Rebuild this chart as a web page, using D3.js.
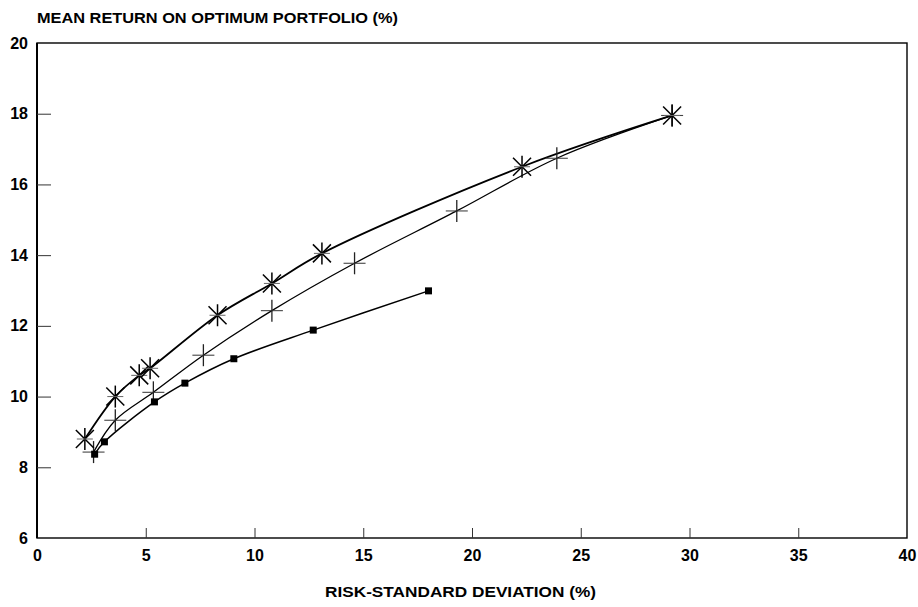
<!DOCTYPE html>
<html>
<head>
<meta charset="utf-8">
<script src="https://cdn.jsdelivr.net/npm/d3@7/dist/d3.min.js"></script>
<style>
  html, body { margin: 0; padding: 0; background: #fff; }
  svg { display: block; }
  text { font-family: "Liberation Sans", Arial, sans-serif; font-weight: bold; fill: #000; }
</style>
</head>
<body>
<svg id="chart" width="918" height="607"></svg>
<script>
// ---- data ----
const titleText = "MEAN RETURN ON OPTIMUM PORTFOLIO (%)";
const xLabelText = "RISK-STANDARD DEVIATION (%)";
const xTicks = [0, 5, 10, 15, 20, 25, 30, 35, 40];
const yTicks = [6, 8, 10, 12, 14, 16, 18, 20];

const starX = [2.2, 3.6, 4.7, 5.2, 8.3, 10.8, 13.1, 22.3, 29.2];
const starY = [8.8, 10.0, 10.6, 10.8, 12.3, 13.2, 14.05, 16.5, 17.95];

const plusX = [2.6, 3.6, 5.35, 7.65, 10.8, 14.6, 19.3, 23.9, 29.2];
const plusY = [8.43, 9.33, 10.12, 11.17, 12.43, 13.77, 15.25, 16.74, 17.95];

const squareX = [2.65, 3.1, 5.4, 6.8, 9.05, 12.7, 18.0];
const squareY = [8.37, 8.72, 9.85, 10.38, 11.07, 11.88, 12.99];

// ---- layout ----
const svg = d3.select("#chart");
const L = 37, R = 907, T = 43, B = 538;
const x = d3.scaleLinear().domain([0, 40]).range([L, R]);
const y = d3.scaleLinear().domain([6, 20]).range([B, T]);

// frame
svg.append("rect").attr("x", L).attr("y", T).attr("width", R - L).attr("height", B - T)
  .attr("fill", "none").attr("stroke", "#000").attr("stroke-width", 1.4);
svg.append("line").attr("x1", L).attr("x2", L).attr("y1", T).attr("y2", B)
  .attr("stroke", "#000").attr("stroke-width", 2);

// y axis
const yAxis = d3.axisLeft(y).tickValues(yTicks).tickSizeInner(-14).tickSizeOuter(0).tickPadding(9)
  .tickFormat(d3.format("d"));
const gy = svg.append("g").attr("transform", `translate(${L},0)`).call(yAxis);
gy.select(".domain").remove();
gy.selectAll(".tick line").attr("stroke", "#333").attr("stroke-width", 1)
  .filter(d => d === 6 || d === 20).remove();
gy.selectAll(".tick text").style("font-size", "16px").style("font-family", "'Liberation Sans', Arial, sans-serif").style("font-weight", "bold");

// x axis
const xAxis = d3.axisBottom(x).tickValues(xTicks).tickSizeInner(-10).tickSizeOuter(0).tickPadding(12)
  .tickFormat(d3.format("d"));
const gx = svg.append("g").attr("transform", `translate(0,${B})`).call(xAxis);
gx.select(".domain").remove();
gx.selectAll(".tick line").attr("stroke", "#333").attr("stroke-width", 1)
  .filter(d => d === 0 || d === 40).remove();
gx.selectAll(".tick text").style("font-size", "16px").style("font-family", "'Liberation Sans', Arial, sans-serif").style("font-weight", "bold");

// titles
svg.append("text").attr("x", 37).attr("y", 23).text(titleText)
  .style("font-size", "15px").attr("textLength", 361).attr("lengthAdjust", "spacingAndGlyphs");
svg.append("text").attr("x", 325).attr("y", 597).text(xLabelText)
  .style("font-size", "15px").attr("textLength", 271).attr("lengthAdjust", "spacingAndGlyphs");

// lines
const line = d3.line().x(d => x(d[0])).y(d => y(d[1])).curve(d3.curveCatmullRom.alpha(0.5));
const starPts = starX.map((v, i) => [v, starY[i]]);
const plusPts = plusX.map((v, i) => [v, plusY[i]]);
const sqPts = squareX.map((v, i) => [v, squareY[i]]);

svg.append("path").attr("d", line(starPts)).attr("fill", "none").attr("stroke", "#000").attr("stroke-width", 1.8);
svg.append("path").attr("d", line(plusPts)).attr("fill", "none").attr("stroke", "#000").attr("stroke-width", 1.3);
svg.append("path").attr("d", line(sqPts)).attr("fill", "none").attr("stroke", "#000").attr("stroke-width", 1.5);

// markers: plus
const gp = svg.append("g");
plusPts.forEach(p => {
  const cx = x(p[0]), cy = y(p[1]);
  gp.append("line").attr("x1", cx - 11).attr("x2", cx + 11).attr("y1", cy).attr("y2", cy)
    .attr("stroke", "#444").attr("stroke-width", 1.1);
  gp.append("line").attr("x1", cx).attr("x2", cx).attr("y1", cy - 11).attr("y2", cy + 11)
    .attr("stroke", "#222").attr("stroke-width", 1.3);
});

// markers: star
const gs = svg.append("g");
starPts.forEach(p => {
  const cx = x(p[0]), cy = y(p[1]);
  const r = 9;
  gs.append("line").attr("x1", cx - r).attr("x2", cx + r).attr("y1", cy - r).attr("y2", cy + r)
    .attr("stroke", "#000").attr("stroke-width", 1.5);
  gs.append("line").attr("x1", cx - r).attr("x2", cx + r).attr("y1", cy + r).attr("y2", cy - r)
    .attr("stroke", "#000").attr("stroke-width", 1.5);
  gs.append("line").attr("x1", cx).attr("x2", cx).attr("y1", cy - 11).attr("y2", cy + 11)
    .attr("stroke", "#000").attr("stroke-width", 1.5);
  gs.append("line").attr("x1", cx - 8).attr("x2", cx + 8).attr("y1", cy).attr("y2", cy)
    .attr("stroke", "#666").attr("stroke-width", 1);
});

// markers: square
svg.append("g").selectAll("rect").data(sqPts).join("rect")
  .attr("x", d => x(d[0]) - 3.5).attr("y", d => y(d[1]) - 3.5)
  .attr("width", 7).attr("height", 7).attr("fill", "#000");
</script>
</body>
</html>
